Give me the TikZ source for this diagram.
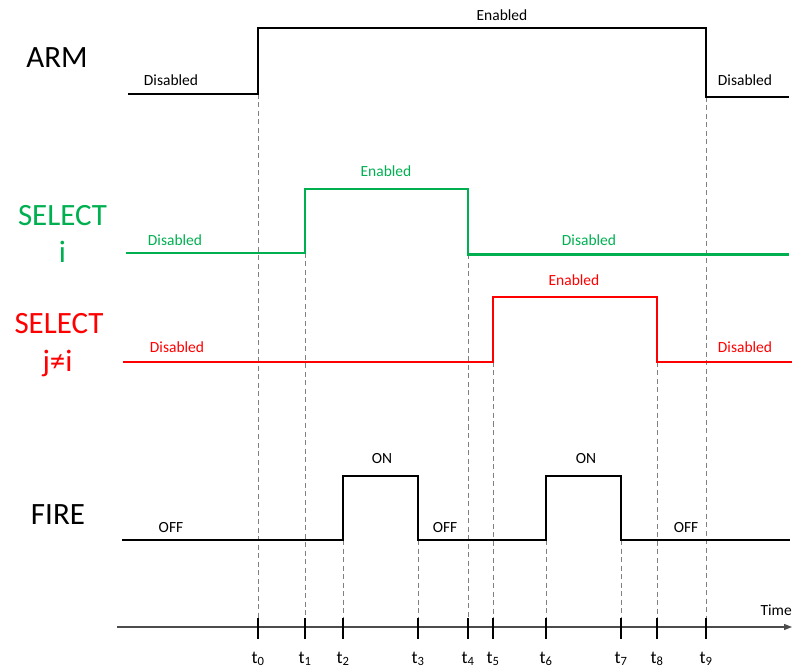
\documentclass[tikz,border=0pt]{standalone}
\usepackage{fontspec}
\setmainfont{Carlito}
\usetikzlibrary{arrows.meta}
\definecolor{selgreen}{RGB}{0,176,80}
\definecolor{selred}{RGB}{255,0,0}

\begin{document}
\begin{tikzpicture}[
  x=1pt, y=-1pt,
  sig/.style={line width=2.6pt, draw=#1},
  sig/.default=black,
  guide/.style={draw=gray, line width=0.9pt, dash pattern=on 5pt off 3.5pt},
  tickmark/.style={line width=2.8pt},
  axis/.style={draw=black!70, line width=1.2pt, -{Triangle[length=8pt, width=6pt]}},
  signame/.style={font=\fontsize{31}{31}\selectfont, text=#1, anchor=base},
  signame/.default=black,
  lvl/.style={font=\fontsize{15.5}{16}\selectfont, text=#1, anchor=base},
  lvl/.default=black,
  tlbl/.style={font=\fontsize{18}{18}\selectfont, anchor=base}
]
  \useasboundingbox (0,0) rectangle (793,668);

  %-- Instants et lignes de repère
  \foreach \n/\x/\y in {0/258/94, 1/305/253, 2/343/540, 3/418/540, 4/468/254.5,
                        5/493/362, 6/546/540, 7/621/540, 8/657/362, 9/706/97} {
    \coordinate (t\n) at (\x,627);
    \coordinate (s\n) at (\x,\y);
    \draw[guide] (s\n) -- (t\n);
  }

  %-- ARM
  \node[signame] (arm) at (57,68) {ARM};
  \draw[sig] (128,94) -- (s0) -- (258,28) -- (706,28) -- (s9) -- (789,97);
  \node[lvl] (armdis1) at (171,86)  {Disabled};
  \node[lvl] (armen)   at (502,21)  {Enabled};
  \node[lvl] (armdis2) at (745,86)  {Disabled};

  %-- SELECT i
  \node[signame=selgreen] (seli)  at (62.5,226) {SELECT};
  \node[signame=selgreen] (seli2) at (62.5,263) {i};
  \draw[sig=selgreen] (126,253) -- (s1) -- (305,189) -- (468,189) -- (s4) -- (789,254.5);
  \node[lvl=selgreen] (idis1) at (175,246) {Disabled};
  \node[lvl=selgreen] (ien)   at (386,177) {Enabled};
  \node[lvl=selgreen] (idis2) at (589,246) {Disabled};

  %-- SELECT j
  \node[signame=selred] (selj)  at (59,334)   {SELECT};
  \node[signame=selred] (selj2) at (57.5,372) {j≠i};
  \draw[sig=selred] (123,362) -- (s5) -- (493,297) -- (657,297) -- (s8) -- (792,362);
  \node[lvl=selred] (jdis1) at (177,353) {Disabled};
  \node[lvl=selred] (jen)   at (574,286) {Enabled};
  \node[lvl=selred] (jdis2) at (745,353) {Disabled};

  %-- FIRE
  \node[signame] (fire) at (58,524) {FIRE};
  \draw[sig] (122,540) -- (s2) -- (343,476) -- (418,476) -- (s3)
             -- (s6) -- (546,476) -- (621,476) -- (s7) -- (790,540);
  \node[lvl] (off1) at (171,532) {OFF};
  \node[lvl] (on1)  at (382,464) {ON};
  \node[lvl] (off2) at (445,532) {OFF};
  \node[lvl] (on2)  at (586,464) {ON};
  \node[lvl] (off3) at (686,532) {OFF};

  %-- Axe du temps
  \coordinate (o) at (117,627);
  \coordinate (tend) at (792,627);
  \draw[axis] (o) -- (tend);
  \node[lvl, anchor=base east, inner sep=1pt] (time) at (793,615) {Time};
  \foreach \n in {0,...,9} {
    \draw[tickmark] ([yshift=9pt]t\n) -- ([yshift=-12pt]t\n);
    \node[tlbl] (l\n) at ([yshift=-36pt]t\n) {t\textsubscript{\n}};
  }
\end{tikzpicture}
\end{document}
